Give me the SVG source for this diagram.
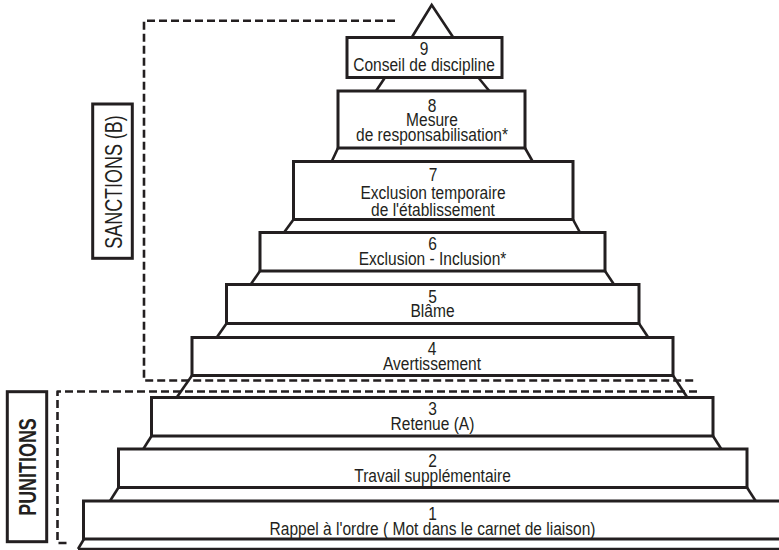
<svg xmlns="http://www.w3.org/2000/svg" width="779" height="550" viewBox="0 0 779 550">
<style>
.box{fill:#fff;stroke:#231f20;stroke-width:3}
.ln{fill:none;stroke:#231f20;stroke-width:2.6;stroke-linecap:butt}
.dash{fill:none;stroke:#231f20;stroke-width:2.6;stroke-dasharray:8 4;stroke-linejoin:round}
.t{font-family:'Liberation Sans',Arial,sans-serif;font-size:18.5px;fill:#231f20;text-anchor:middle}
.lab{font-family:'Liberation Sans',Arial,sans-serif;font-size:23px;fill:#231f20;text-anchor:middle}
</style>
<rect width="779" height="550" fill="#fff"/>
<g id="connectors">
<polyline class="ln" points="411.7,37.5 431.7,5 453.3,37.5"/>
<line class="ln" x1="385" y1="77.5" x2="376" y2="91"/>
<line class="ln" x1="478.3" y1="77.5" x2="489.3" y2="91"/>
<line class="ln" x1="338" y1="148" x2="331.7" y2="161.5"/>
<line class="ln" x1="525" y1="148" x2="532.7" y2="161.5"/>
<line class="ln" x1="293.5" y1="219.5" x2="284" y2="232.5"/>
<line class="ln" x1="573" y1="219.5" x2="580" y2="232.5"/>
<line class="ln" x1="260" y1="271" x2="250.7" y2="284.5"/>
<line class="ln" x1="605" y1="271" x2="614" y2="284.5"/>
<line class="ln" x1="226.5" y1="323.5" x2="216.7" y2="337.5"/>
<line class="ln" x1="639" y1="323.5" x2="648.3" y2="337.5"/>
<line class="ln" x1="192" y1="375.5" x2="176.7" y2="397.5"/>
<line class="ln" x1="673" y1="375.5" x2="687.3" y2="397.5"/>
<line class="ln" x1="151.5" y1="436" x2="143.3" y2="449"/>
<line class="ln" x1="713" y1="436" x2="721.3" y2="449"/>
<line class="ln" x1="118.5" y1="487.5" x2="110" y2="501"/>
<line class="ln" x1="747" y1="487.5" x2="755.7" y2="501"/>
<line class="ln" x1="84" y1="539" x2="78" y2="549"/>
<line class="ln" x1="78" y1="549" x2="790" y2="549"/>
<path class="dash" d="M395,20.7 H144 V380.5 H697"/>
<path class="dash" d="M697,391.5 H57.5 V543 H68"/>
</g>
<g id="node9"><rect class="box" x="347" y="37.5" width="155" height="40"/>
<text class="t" transform="translate(424,55) scale(0.84,1)">9</text><text class="t" transform="translate(424,70.5) scale(0.84,1)">Conseil de discipline</text></g>
<g id="node8"><rect class="box" x="338" y="91" width="187" height="57"/>
<text class="t" transform="translate(432,111.5) scale(0.84,1)">8</text><text class="t" transform="translate(432,126) scale(0.84,1)">Mesure</text><text class="t" transform="translate(432,140.5) scale(0.84,1)">de responsabilisation*</text></g>
<g id="node7"><rect class="box" x="293.5" y="161.5" width="279.5" height="58"/>
<text class="t" transform="translate(433,180.5) scale(0.84,1)">7</text><text class="t" transform="translate(433,199) scale(0.84,1)">Exclusion temporaire</text><text class="t" transform="translate(433,216) scale(0.84,1)">de l'établissement</text></g>
<g id="node6"><rect class="box" x="260" y="232.5" width="345" height="38.5"/>
<text class="t" transform="translate(432.5,250) scale(0.84,1)">6</text><text class="t" transform="translate(432.5,265) scale(0.84,1)">Exclusion - Inclusion*</text></g>
<g id="node5"><rect class="box" x="226.5" y="284.5" width="412.5" height="39"/>
<text class="t" transform="translate(432.5,303) scale(0.84,1)">5</text><text class="t" transform="translate(432.5,317.3) scale(0.84,1)">Blâme</text></g>
<g id="node4"><rect class="box" x="192" y="337.5" width="481" height="38"/>
<text class="t" transform="translate(432,355) scale(0.84,1)">4</text><text class="t" transform="translate(432,370) scale(0.84,1)">Avertissement</text></g>
<g id="node3"><rect class="box" x="151.5" y="397.5" width="561.5" height="38.5"/>
<text class="t" transform="translate(432.5,415) scale(0.84,1)">3</text><text class="t" transform="translate(432.5,430) scale(0.84,1)">Retenue (A)</text></g>
<g id="node2"><rect class="box" x="118.5" y="449" width="628.5" height="38.5"/>
<text class="t" transform="translate(432.5,467) scale(0.84,1)">2</text><text class="t" transform="translate(432.5,482) scale(0.84,1)">Travail supplémentaire</text></g>
<g id="node1"><rect class="box" x="83.5" y="501" width="710" height="38"/>
<text class="t" transform="translate(432.5,520) scale(0.84,1)">1</text><text class="t" transform="translate(432.5,535) scale(0.84,1)">Rappel à l'ordre ( Mot dans le carnet de liaison)</text></g>
<g id="label-sanctions"><rect class="box" x="92.7" y="104" width="39.6" height="154.3"/>
<text class="lab" transform="translate(113,182) rotate(-90) scale(0.78,1)" y="8.5">SANCTIONS (B)</text></g>
<g id="label-punitions"><rect class="box" x="7.3" y="391.7" width="39.4" height="150"/>
<text class="lab" transform="translate(27,467) rotate(-90) scale(0.78,1)" y="8.5" font-weight="bold">PUNITIONS</text></g>
</svg>
